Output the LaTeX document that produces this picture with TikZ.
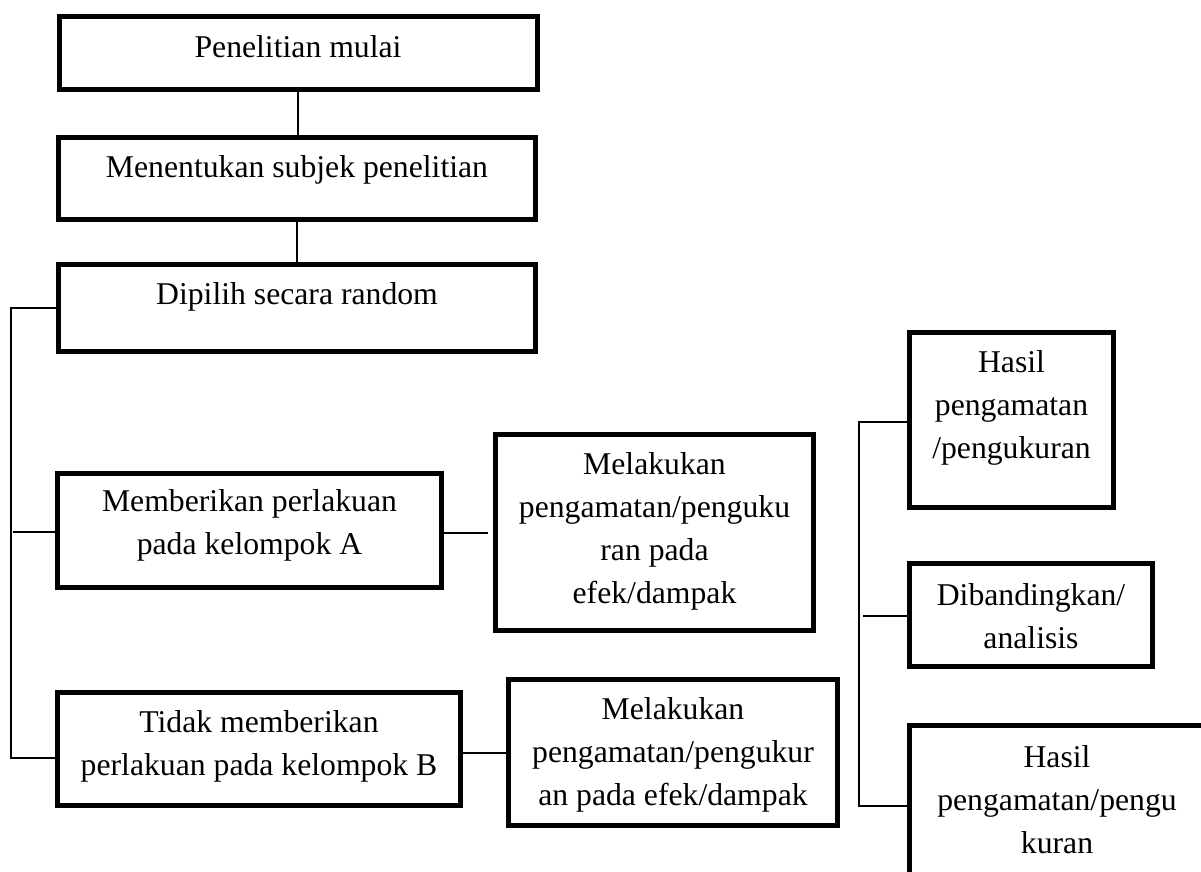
\documentclass[tikz,border=0pt]{standalone}
\usepackage{fontspec}
\setmainfont{Liberation Serif}
\begin{document}
\begin{tikzpicture}[x=1pt,y=-1pt,
  box/.style={draw=black, line width=5pt, rectangle, inner sep=0pt},
  txt/.style={align=center, inner sep=0pt, font=\fontsize{31.7}{43}\selectfont},
  conn/.style={draw=black, line width=1.4pt}]
\useasboundingbox (0,0) rectangle (1201,871);
\fill[white] (0,0) rectangle (1201,871);
\clip (0,0) rectangle (1201,871);

% left column
\node[box, minimum width=478pt, minimum height=73pt,
  label={[txt,yshift=6pt]center:{Penelitian mulai}}] (b1) at (298,53) {};
\node[box, minimum width=477pt, minimum height=82pt,
  label={[txt,yshift=8.5pt]center:{Menentukan subjek penelitian}}] (b2) at (297,178.5) {};
\node[box, minimum width=477pt, minimum height=87pt,
  label={[txt,yshift=11pt]center:{Dipilih secara random}}] (b3) at (297,308) {};
\node[box, minimum width=384pt, minimum height=114pt,
  label={[txt,yshift=5pt]center:{Memberikan perlakuan\\pada kelompok A}}] (bA) at (249.5,530.5) {};
\node[box, minimum width=403pt, minimum height=113pt,
  label={[txt,yshift=2.5pt]center:{Tidak memberikan\\perlakuan pada kelompok B}}] (bB) at (259,749) {};

% middle column
\node[box, minimum width=318pt, minimum height=196pt,
  label={[txt,yshift=1.5pt]center:{Melakukan\\pengamatan/penguku\\ran pada\\efek/dampak}}] (bMA) at (654.5,532.5) {};
\node[box, minimum width=329pt, minimum height=146pt,
  label={[txt,yshift=-2pt]center:{Melakukan\\pengamatan/pengukur\\an pada efek/dampak}}] (bMB) at (673,752.5) {};

% right column
\node[box, minimum width=204pt, minimum height=175pt,
  label={[txt,yshift=12pt]center:{Hasil\\pengamatan\\/pengukuran}}] (bH1) at (1011.5,420) {};
\node[box, minimum width=243pt, minimum height=103pt,
  label={[txt,yshift=-1.5pt]center:{Dibandingkan/\\analisis}}] (bD) at (1031,615) {};
\node[box, minimum width=295pt, minimum height=167pt,
  label={[txt,yshift=9pt]center:{Hasil\\pengamatan/pengu\\kuran}}] (bH2) at (1057,809) {};

% connectors
\draw[conn] (b1.south) -- (b1.south |- b2.north);
\draw[conn] (b2.south) -- (b2.south |- b3.north);

\coordinate (Ltop) at (11,308);
\coordinate (Lbot) at (11,758);
\draw[conn] (b3.west) -- (Ltop) -- (Lbot) -- (Lbot -| bB.west);
\coordinate (Aj) at (13,532);
\draw[conn] (Aj) -- (Aj -| bA.west);

\coordinate (MAj) at (488,533);
\draw[conn] (bA.east |- MAj) -- (MAj);
\coordinate (MBj) at (506,753);
\draw[conn] (bB.east |- MBj) -- (MBj -| bMB.west);

\coordinate (Rtop) at (859,422);
\coordinate (Rbot) at (859,806);
\draw[conn] (Rtop -| bH1.west) -- (Rtop) -- (Rbot) -- (Rbot -| bH2.west);
\coordinate (Dj) at (863,616);
\draw[conn] (Dj) -- (Dj -| bD.west);
\end{tikzpicture}
\end{document}
